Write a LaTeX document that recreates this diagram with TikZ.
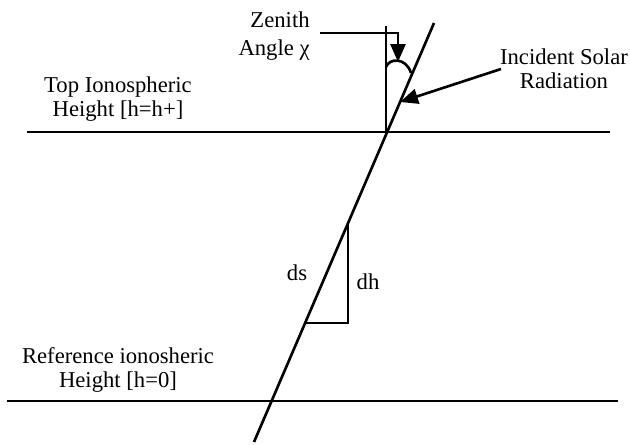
\documentclass[tikz,border=0pt]{standalone}
\usepackage{fontspec}
\setmainfont{Liberation Serif}
\usetikzlibrary{arrows.meta}

\tikzset{
  lbl/.style={font=\fontsize{12.9}{13.4}\selectfont,inner sep=0pt,align=center},
  bigtip/.style={-{Triangle[length=3.6mm,width=3mm]}},
  ln/.style={line width=1.5pt}
}

\begin{document}
\begin{tikzpicture}[x=0.02cm,y=-0.02cm]
\useasboundingbox (0,0) rectangle (630,444);
% geometry points (pixel grid)
\coordinate (rayTop) at (434,23);
\coordinate (rayBot) at (254,442);
\coordinate (topL) at (27,132); \coordinate (topR) at (610,132);
\coordinate (refL) at (7,401); \coordinate (refR) at (618,401);
\coordinate (zenTop) at (386,26); \coordinate (zenFoot) at (386,131);
\coordinate (arcL) at (386,67); \coordinate (arcR) at (411,73);
\coordinate (zenStart) at (320,33); \coordinate (zenTip) at (398,62);
\coordinate (incStart) at (501,69); \coordinate (incTip) at (400,102);
\coordinate (dhTop) at (348,223); \coordinate (dhFoot) at (348,323); \coordinate (dsBot) at (305,323);
% labels
\node[lbl,align=right,anchor=east] (zenith) at (310,36) {Zenith\\[3pt]Angle χ};
\node[lbl] (solar) at (564,69) {Incident Solar\\Radiation};
\node[lbl] (topion) at (118,99) {Top Ionospheric\\Height [h=h+]};
\node[lbl] (refion) at (118,370) {Reference ionosheric\\Height [h=0]};
\node[lbl] (ds) at (297,273) {ds};
\node[lbl] (dh) at (368,282) {dh};
% lines
\draw[ln] (topL) -- (topR);
\draw[ln] (refL) -- (refR);
\draw[ln] (rayBot) -- (rayTop);
\draw[ln] (zenTop) -- (zenFoot);
\draw[ln] (arcL) .. controls (389,58) and (406,57) .. (arcR);
\draw[ln] (dhTop) -- (dhFoot) -- (dsBot);
\draw[ln,bigtip] (zenStart) -| (zenTip);
\draw[ln,bigtip] (incStart) -- (incTip);
\end{tikzpicture}
\end{document}
